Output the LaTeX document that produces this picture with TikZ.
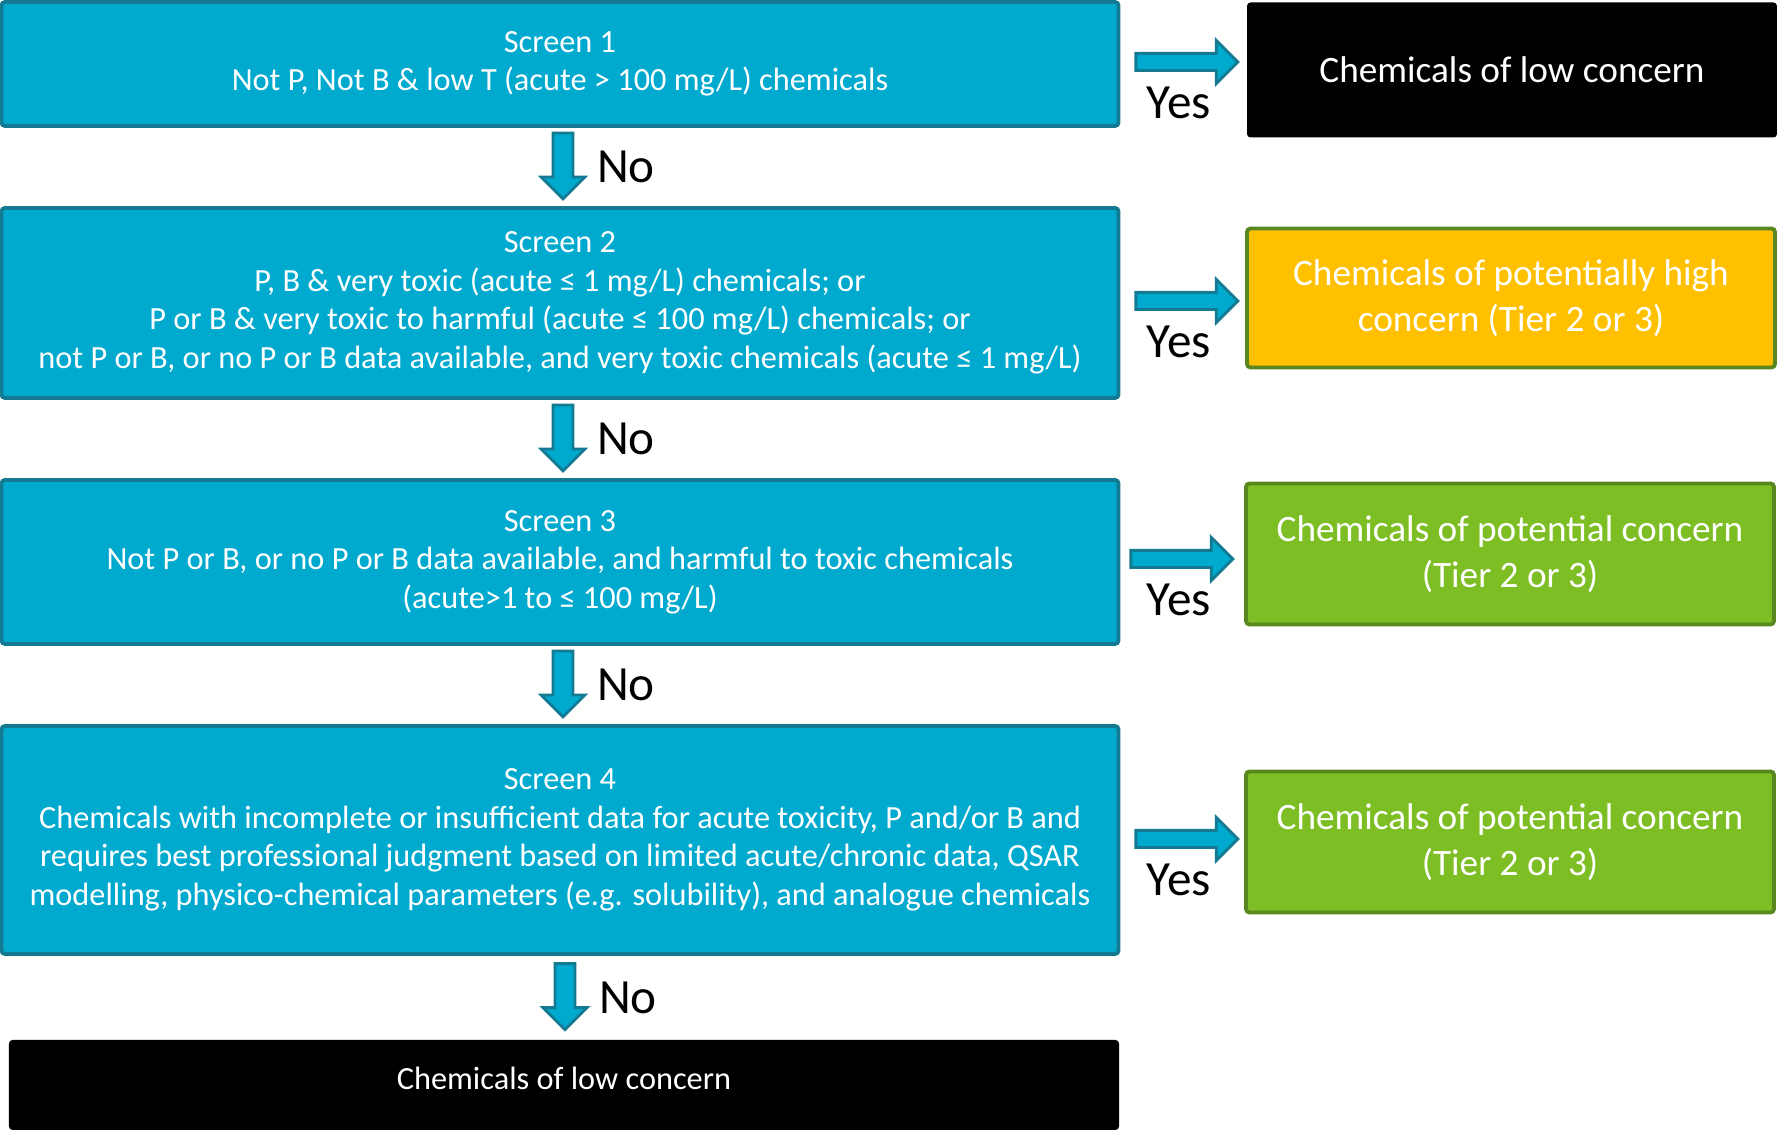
\documentclass[tikz,border=0pt]{standalone}
\usepackage{fontspec}
\setmainfont{Carlito}
\usepackage{tikz}
\usetikzlibrary{shapes.arrows,positioning,calc}

\definecolor{screenblue}{RGB}{0,169,206}
\definecolor{screenedge}{RGB}{20,122,146}
\definecolor{leafgreen}{RGB}{124,190,36}
\definecolor{leafedge}{RGB}{88,135,32}
\definecolor{amber}{RGB}{255,192,0}

\begin{document}
\begin{tikzpicture}[
	screen/.style={draw=screenedge, fill=screenblue, line width=1.1pt, rounded corners=1pt, text=white, minimum width=11.17cm, align=center, font=\fontsize{9.2}{10.95}\selectfont},
	outcome/.style={line width=1.1pt, rounded corners=1pt, text=white, minimum width=5.28cm, minimum height=1.39cm, align=center, font=\fontsize{10.6}{12.9}\selectfont},
	yesarrow/.style={single arrow, draw=screenedge, fill=screenblue, line width=0.8pt, minimum height=1.02cm, inner sep=0.072cm, single arrow head extend=0.13cm},
	noarrow/.style={single arrow, rotate=-90, draw=screenedge, fill=screenblue, line width=0.8pt, minimum height=0.66cm, inner sep=0.086cm, single arrow head extend=0.12cm},
	answer/.style={font=\fontsize{14}{16}\selectfont, inner sep=0pt}
	]
	\useasboundingbox (0,0) rectangle (17.77,-11.30);
	
	\node[screen, minimum height=1.24cm] (s1) at (5.60,-0.64) {Screen 1\\Not P, Not B \& low T (acute > 100 mg/L) chemicals};
	\node[screen, minimum height=1.90cm] (s2) at (5.60,-3.03) {Screen 2\\P, B \& very toxic (acute ≤ 1 mg/L) chemicals; or\\P or B \& very toxic to harmful (acute ≤ 100 mg/L) chemicals; or\\not P or B, or no P or B data available, and very toxic chemicals (acute ≤ 1 mg/L)};
	\node[screen, minimum height=1.64cm] (s3) at (5.60,-5.62) {Screen 3\\Not P or B, or no P or B data available, and harmful to toxic chemicals\\(acute>1 to ≤ 100 mg/L)};
	\node[screen, minimum height=2.28cm] (s4) at (5.60,-8.40) {Screen 4\\Chemicals with incomplete or insufficient data for acute toxicity, P and/or B and\\requires best professional judgment based on limited acute/chronic data, QSAR\\modelling, physico-chemical parameters (e.g. solubility), and analogue chemicals};
	\node[fill=black, rounded corners=1pt, text=white, minimum width=11.10cm, minimum height=0.90cm, text depth=0.14cm, font=\fontsize{9.2}{10.95}\selectfont] (low2) at (5.64,-10.85) {Chemicals of low concern};
	
	\node[outcome, fill=black, minimum width=5.30cm, minimum height=1.35cm] (o1) at (15.12,-0.70) {Chemicals of low concern};
	\node[outcome, draw=leafedge, fill=amber] (o2) at (15.11,-2.98) {Chemicals of potentially high\\concern (Tier 2 or 3)};
	\node[outcome, draw=leafedge, fill=leafgreen, minimum height=1.41cm] (o3) at (15.10,-5.54) {Chemicals of potential concern\\(Tier 2 or 3)};
	\node[outcome, draw=leafedge, fill=leafgreen, minimum height=1.41cm] (o4) at (15.10,-8.42) {Chemicals of potential concern\\(Tier 2 or 3)};
	
	% yes arrows
	\node[yesarrow, right=0.14cm of s1.east, yshift=0.02cm] (y1) {};
	\node[yesarrow, right=0.14cm of s2.east, yshift=0.02cm] (y2) {};
	\node[yesarrow, right=0.09cm of s3.east, yshift=0.03cm] (y3) {};
	\node[yesarrow, right=0.14cm of s4.east, yshift=0.01cm] (y4) {};
	\foreach \i in {1,...,4}
		\node[answer] (yes\i) at ($(11.79,0 |- y\i)+(0,-0.41)$) {Yes};
	
	% no arrows
	\node[noarrow] (n1) at ($(s1.south)!0.5!(s2.north)+(0.03,0.06)$) {};
	\node[noarrow] (n2) at ($(s2.south)!0.5!(s3.north)+(0.03,0.06)$) {};
	\node[noarrow] (n3) at ($(s3.south)!0.5!(s4.north)+(0.03,0.06)$) {};
	\node[noarrow] (n4) at ($(s4.south)!0.5!(low2.north)+(0.03,0.06)$) {};
	\foreach \i in {1,...,4}
		\node[answer] (no\i) at ($(n\i)+(0.63,-0.06)$) {No};
\end{tikzpicture}
\end{document}
